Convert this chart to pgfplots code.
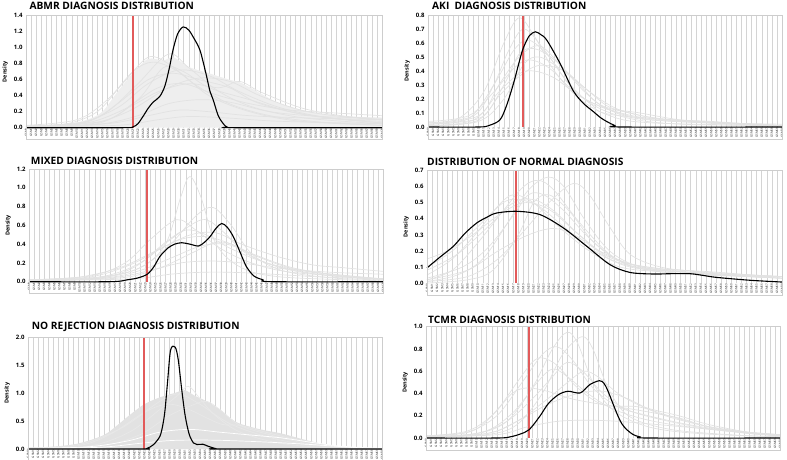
\documentclass[border=0pt]{standalone}
\usepackage{fontspec}
\setmainfont{Open Sans}
\usepackage{pgfplots}
\pgfplotsset{compat=1.18}
\definecolor{gcol}{RGB}{226,226,226}
\definecolor{gfill}{RGB}{238,238,238}
\definecolor{gridc}{RGB}{212,212,212}
\definecolor{redl}{RGB}{226,90,90}
\definecolor{framec}{RGB}{205,205,205}
\pgfplotsset{
  panel/.style={
    scale only axis, anchor=north west,
    xmin=0, xmax=70, ymin=0, clip=false,
    xtick={0,...,70}, xmajorgrids,
    major grid style={draw=gridc, line width=0.45pt},
    major tick length=0pt, axis line style={draw=none},
    xticklabel={GSM\ticknum},
    xticklabel style={font=\fontsize{3}{3}\selectfont, rotate=90, anchor=east, text=black!85, inner sep=0.6pt},
    yticklabel style={font=\fontsize{6}{7}\selectfont\bfseries,
      /pgf/number format/fixed, /pgf/number format/fixed zerofill,
      /pgf/number format/precision=1, /pgf/number format/assume math mode=true},
    ylabel={Density}, ylabel style={font=\fontsize{5.5}{6}\selectfont\bfseries, yshift=-1pt},
    title style={at={(0,1)}, anchor=base west, inner sep=0pt,
      font=\fontsize{10.2}{12}\selectfont\bfseries},
    extra description/.code={\draw[framec, line width=0.5pt] ([yshift=-12pt]0,0) rectangle (1,1);}},
  gc/.style={gcol, line width=0.7pt, smooth, tension=0.55},
  env/.style={draw=none, fill=gfill, smooth, tension=0.5},
  bk/.style={draw=black, line width=1.1pt, smooth, tension=0.5},
  redline/.style={color=redl, line width=1.5pt, sharp plot, mark=none},
}

\begin{document}
\begin{tikzpicture}
\path[use as bounding box] (0pt,0pt) rectangle (787pt,-459pt);

% ---------------- ABMR
\begin{axis}[panel, at={(26pt,-15.7pt)}, width=356pt, height=112pt, ymax=1.4,
  ytick={0,0.2,0.4,0.6,0.8,1.0,1.2,1.4},
  title={ABMR DIAGNOSIS DISTRIBUTION}, title style={xshift=3.3pt, yshift=0.7pt}]
\addplot[env] coordinates {(0,0.02)(8,0.05)(12,0.1)(15,0.2)(18,0.45)(21,0.68)(24,0.86)(27,0.84)(29,0.88)(32,0.76)(36,0.68)(40,0.6)(42,0.57)(45,0.47)(50,0.3)(56,0.2)(62,0.15)(70,0.12)} \closedcycle;
\addplot[gc] coordinates {(0,0.02)(8,0.05)(14,0.2)(19,0.55)(24,0.88)(28,0.8)(33,0.55)(40,0.3)(48,0.15)(58,0.07)(70,0.03)};
\addplot[gc] coordinates {(0,0.01)(10,0.04)(16,0.2)(22,0.55)(28,0.92)(32,0.75)(38,0.45)(45,0.25)(55,0.12)(70,0.05)};
\addplot[gc] coordinates {(0,0.01)(10,0.05)(18,0.25)(24,0.55)(30,0.72)(36,0.65)(42,0.45)(50,0.25)(60,0.12)(70,0.08)};
\addplot[gc] coordinates {(0,0.01)(12,0.04)(20,0.2)(28,0.5)(34,0.62)(40,0.58)(46,0.4)(54,0.22)(62,0.14)(70,0.1)};
\addplot[gc] coordinates {(0,0.02)(12,0.06)(20,0.25)(26,0.45)(32,0.55)(38,0.5)(42,0.58)(46,0.45)(54,0.25)(62,0.15)(70,0.1)};
\addplot[gc] coordinates {(0,0.01)(14,0.04)(22,0.15)(28,0.3)(34,0.35)(40,0.32)(48,0.2)(58,0.14)(70,0.12)};
\addplot[gc] coordinates {(0,0.01)(16,0.05)(24,0.15)(30,0.22)(36,0.2)(44,0.15)(56,0.12)(70,0.1)};
\addplot[gc] coordinates {(0,0.03)(10,0.1)(16,0.35)(21,0.7)(25,0.82)(30,0.7)(36,0.4)(44,0.2)(54,0.08)(70,0.03)};
\addplot[gc] coordinates {(0,0.01)(14,0.05)(22,0.35)(27,0.75)(31,0.7)(36,0.5)(44,0.35)(52,0.2)(60,0.12)(70,0.06)};
\addplot[gc] coordinates {(0,0.01)(18,0.03)(26,0.1)(32,0.14)(40,0.12)(50,0.08)(70,0.05)};
\addplot[gc] coordinates {(0,0.02)(12,0.08)(18,0.3)(24,0.6)(29,0.68)(34,0.6)(40,0.5)(46,0.3)(56,0.15)(70,0.06)};
\addplot[gc] coordinates {(0,0.01)(15,0.08)(21,0.3)(26,0.5)(31,0.55)(37,0.42)(44,0.3)(52,0.22)(62,0.18)(70,0.15)};
\addplot[redline] coordinates {(21,0)(21,1.4)};
\addplot[bk] coordinates {(0,0)(19,0)(21,0.01)(22,0.05)(23,0.14)(24,0.24)(25,0.32)(26.3,0.39)(27.3,0.52)(28.2,0.75)(28.9,0.97)(29.8,1.17)(30.9,1.26)(32,1.22)(33,1.12)(34.2,0.97)(35.3,0.7)(36.2,0.45)(36.8,0.35)(37.8,0.15)(38.8,0.05)(39.5,0.01)(41,0)(70,0)};
\end{axis}

% ---------------- AKI
\begin{axis}[panel, at={(428pt,-15pt)}, width=354pt, height=112pt, ymax=0.8,
  ytick={0,0.1,0.2,0.3,0.4,0.5,0.6,0.7,0.8},
  title={AKI\ \ DIAGNOSIS DISTRIBUTION}, title style={xshift=4pt, yshift=-0.3pt}]
\addplot[gc] coordinates {(0,0.03)(6,0.06)(11,0.25)(15,0.6)(18,0.78)(21,0.65)(25,0.4)(30,0.2)(36,0.08)(44,0.03)(70,0.01)};
\addplot[gc] coordinates {(0,0.02)(8,0.06)(13,0.3)(17,0.55)(20,0.62)(24,0.5)(28,0.3)(33,0.15)(40,0.06)(50,0.02)(70,0.01)};
\addplot[gc] coordinates {(0,0.04)(8,0.08)(13,0.25)(17,0.42)(20,0.48)(24,0.42)(29,0.25)(34,0.15)(42,0.07)(55,0.03)(70,0.01)};
\addplot[gc] coordinates {(0,0.01)(9,0.05)(14,0.25)(18,0.38)(21,0.4)(25,0.35)(30,0.22)(36,0.12)(45,0.05)(70,0.01)};
\addplot[gc] coordinates {(0,0.02)(10,0.08)(14,0.3)(18,0.5)(22,0.58)(26,0.45)(31,0.25)(36,0.12)(44,0.05)(70,0.01)};
\addplot[gc] coordinates {(0,0.01)(10,0.04)(15,0.2)(19,0.45)(22,0.5)(26,0.42)(31,0.28)(36,0.14)(42,0.1)(50,0.05)(58,0.03)(70,0.02)};
\addplot[gc] coordinates {(0,0.03)(9,0.08)(13,0.3)(16,0.55)(19,0.7)(23,0.55)(27,0.35)(32,0.17)(38,0.08)(70,0.01)};
\addplot[gc] coordinates {(0,0.02)(10,0.06)(14,0.22)(18,0.36)(22,0.44)(27,0.4)(32,0.25)(38,0.12)(46,0.06)(56,0.04)(64,0.02)(70,0.01)};
\addplot[gc] coordinates {(0,0.01)(10,0.05)(15,0.3)(18,0.52)(21,0.56)(25,0.48)(30,0.3)(34,0.16)(40,0.1)(48,0.05)(70,0.01)};
\addplot[redline] coordinates {(18.8,0)(18.8,0.8)};
\addplot[bk] coordinates {(0,0)(10,0)(12,0.01)(14.2,0.05)(15.5,0.15)(16.9,0.31)(18,0.46)(18.8,0.56)(20,0.65)(21.2,0.68)(22.3,0.66)(23.5,0.62)(26.1,0.455)(28.7,0.26)(30.7,0.17)(32.7,0.11)(34,0.07)(35.3,0.04)(37,0.01)(38.5,0)(70,0)};
\end{axis}

% ---------------- MIXED
\begin{axis}[panel, at={(29pt,-169pt)}, width=354pt, height=112.7pt, ymax=1.2,
  ytick={0,0.2,0.4,0.6,0.8,1.0,1.2},
  title={MIXED DIAGNOSIS DISTRIBUTION}, title style={xshift=1.7pt, yshift=-1pt}]
\addplot[gc] coordinates {(0,0.01)(14,0.05)(22,0.15)(27,0.4)(30,0.9)(31.8,1.12)(34,0.9)(37,0.4)(42,0.15)(50,0.05)(70,0.01)};
\addplot[gc] coordinates {(0,0.01)(14,0.04)(22,0.15)(28,0.4)(33,0.7)(36.4,0.79)(40,0.6)(44,0.3)(50,0.12)(60,0.04)(70,0.02)};
\addplot[gc] coordinates {(0,0.02)(12,0.06)(19,0.2)(24,0.45)(29.2,0.66)(33,0.55)(38,0.35)(44,0.2)(52,0.1)(70,0.03)};
\addplot[gc] coordinates {(0,0.01)(14,0.05)(22,0.2)(28,0.45)(34.2,0.66)(38,0.55)(43,0.3)(50,0.15)(60,0.06)(70,0.03)};
\addplot[gc] coordinates {(0,0.02)(12,0.05)(20,0.18)(26,0.35)(32,0.5)(37,0.52)(42,0.4)(49,0.27)(56,0.18)(62,0.15)(70,0.11)};
\addplot[gc] coordinates {(0,0.01)(15,0.04)(22,0.12)(28,0.25)(34,0.38)(39,0.4)(44,0.3)(52,0.15)(62,0.06)(70,0.03)};
\addplot[gc] coordinates {(0,0.02)(10,0.05)(18,0.15)(24,0.3)(30,0.45)(35,0.48)(40,0.4)(46,0.25)(54,0.12)(70,0.03)};
\addplot[gc] coordinates {(0,0.01)(16,0.04)(24,0.12)(30,0.2)(36,0.22)(42,0.2)(50,0.14)(60,0.1)(70,0.08)};
\addplot[gc] coordinates {(0,0.01)(18,0.04)(26,0.15)(32,0.3)(37,0.42)(41,0.38)(46,0.22)(54,0.1)(70,0.02)};
\addplot[gc] coordinates {(0,0.01)(20,0.03)(28,0.08)(34,0.1)(40,0.1)(48,0.08)(58,0.05)(70,0.03)};
\addplot[gc] coordinates {(0,0.01)(14,0.04)(21,0.16)(27,0.42)(31,0.55)(35,0.5)(40,0.35)(47,0.2)(56,0.1)(70,0.03)};
\addplot[redline] coordinates {(23.3,0)(23.3,1.2)};
\addplot[bk] coordinates {(0,0)(16,0)(19.4,0.02)(21.5,0.04)(23.4,0.08)(24.7,0.16)(25.9,0.27)(27.5,0.36)(28.8,0.4)(30.2,0.415)(31.8,0.4)(33.5,0.38)(34.7,0.42)(35.8,0.48)(37,0.57)(38.1,0.62)(39.2,0.58)(40.4,0.48)(41.7,0.32)(43,0.16)(44.5,0.06)(46.3,0.02)(48,0)(70,0)};
\end{axis}

% ---------------- NORMAL
\begin{axis}[panel, at={(427pt,-170.7pt)}, width=355pt, height=112.3pt, ymax=0.7,
  ytick={0,0.1,0.2,0.3,0.4,0.5,0.6,0.7},
  title={DISTRIBUTION OF NORMAL DIAGNOSIS}, title style={xshift=0pt, yshift=-0.3pt}]
\addplot[gc] coordinates {(0,0.02)(5,0.08)(10,0.25)(15,0.45)(19,0.6)(22,0.64)(25,0.58)(30,0.38)(36,0.18)(42,0.09)(50,0.07)(58,0.05)(70,0.03)};
\addplot[gc] coordinates {(0,0.01)(6,0.05)(11,0.15)(16,0.38)(20,0.58)(23.9,0.66)(27,0.6)(31,0.4)(36,0.2)(42,0.1)(50,0.08)(60,0.05)(70,0.04)};
\addplot[gc] coordinates {(0,0.01)(8,0.04)(14,0.15)(19,0.32)(24,0.5)(28.8,0.62)(32,0.55)(36,0.35)(40,0.18)(46,0.1)(54,0.07)(70,0.04)};
\addplot[gc] coordinates {(0,0.05)(5,0.15)(10,0.32)(14,0.48)(17,0.55)(21,0.5)(26,0.35)(32,0.2)(38,0.1)(46,0.07)(56,0.05)(70,0.03)};
\addplot[gc] coordinates {(0,0.1)(5,0.2)(10,0.35)(15,0.5)(18,0.52)(22,0.48)(27,0.35)(33,0.2)(40,0.1)(50,0.07)(60,0.05)(70,0.04)};
\addplot[gc] coordinates {(0,0.15)(4,0.2)(9,0.3)(14,0.42)(19,0.5)(24,0.46)(30,0.3)(36,0.16)(44,0.09)(54,0.06)(70,0.03)};
\addplot[gc] coordinates {(0,0.02)(8,0.08)(14,0.2)(20,0.3)(24.9,0.34)(29,0.3)(34,0.2)(40,0.12)(48,0.08)(58,0.05)(70,0.03)};
\addplot[gc] coordinates {(0,0.0)(8,0.02)(13,0.08)(18,0.3)(21,0.5)(24,0.55)(28,0.45)(33,0.25)(39,0.12)(46,0.08)(56,0.06)(70,0.04)};
\addplot[gc] coordinates {(0,0.08)(6,0.18)(12,0.35)(17,0.5)(21,0.52)(25,0.45)(30,0.3)(36,0.15)(44,0.08)(54,0.05)(70,0.04)};
\addplot[gc] coordinates {(0,0.03)(7,0.1)(12,0.22)(17,0.42)(20,0.55)(23,0.55)(27,0.45)(32,0.28)(38,0.14)(46,0.09)(56,0.07)(64,0.05)(70,0.04)};
\addplot[redline] coordinates {(17.5,0)(17.5,0.7)};
\addplot[bk] coordinates {(0,0.094)(2.5,0.16)(5.2,0.229)(7.5,0.31)(9.8,0.374)(11.8,0.41)(13.7,0.436)(17.7,0.447)(22.3,0.426)(26.9,0.343)(31.5,0.229)(36.1,0.114)(40,0.066)(44.6,0.056)(48,0.058)(51.9,0.058)(54.5,0.047)(57.1,0.035)(63.7,0.017)(70,0.006)};
\end{axis}

% ---------------- NO REJECTION
\begin{axis}[panel, at={(28pt,-337pt)}, width=354pt, height=112pt, ymax=2.0,
  ytick={0,0.5,1.0,1.5,2.0},
  title={NO REJECTION DIAGNOSIS DISTRIBUTION}, title style={xshift=3.7pt, yshift=2pt}]
\addplot[env, fill=gcol] coordinates {(0,0.02)(5,0.04)(10,0.1)(15,0.25)(18,0.45)(20,0.6)(23,0.8)(26,0.92)(29,1.0)(31,1.05)(33,0.95)(35.4,0.85)(38,0.7)(40,0.55)(42,0.45)(46,0.35)(50,0.28)(55,0.16)(60,0.06)(65,0.02)(70,0.005)} \closedcycle;
\addplot[gc, gray!18] coordinates {(0,0.01)(10,0.06)(16,0.25)(22,0.6)(27,0.9)(30,0.98)(34,0.8)(40,0.45)(48,0.2)(56,0.07)(64,0.02)(70,0.0)};
\addplot[gc, gray!18] coordinates {(0,0.01)(12,0.05)(20,0.3)(26,0.7)(29.5,0.95)(31.7,1.12)(34,0.9)(37,0.6)(42,0.3)(50,0.1)(60,0.02)(70,0)};
\addplot[gc, gray!18] coordinates {(0,0.01)(14,0.05)(22,0.25)(28,0.6)(33,0.8)(35.4,0.85)(38,0.7)(42,0.42)(48,0.25)(55,0.1)(62,0.03)(70,0)};
\addplot[gc, gray!18] coordinates {(0,0.02)(10,0.08)(18,0.35)(24,0.7)(28,0.8)(32,0.7)(38,0.45)(42,0.42)(47,0.3)(54,0.15)(62,0.04)(70,0.01)};
\addplot[gc, white] coordinates {(0,0.01)(12,0.04)(20,0.15)(26,0.3)(32,0.35)(38,0.3)(44,0.25)(50,0.2)(56,0.12)(62,0.05)(70,0.01)};
\addplot[gc, white] coordinates {(0,0.01)(14,0.03)(22,0.1)(28,0.15)(34,0.16)(40,0.15)(48,0.12)(56,0.08)(64,0.03)(70,0.01)};
\addplot[redline] coordinates {(22.9,0)(22.9,2.0)};
\addplot[bk] coordinates {(0,0)(22.5,0)(23.5,0.01)(24.8,0.077)(26.1,0.23)(26.7,0.45)(27.1,0.7)(27.6,1.2)(28.2,1.77)(29.1,1.82)(29.7,1.6)(30.4,1.06)(31,0.64)(31.5,0.4)(32,0.23)(32.7,0.11)(33.4,0.08)(34.6,0.085)(35.6,0.05)(37,0.01)(38,0)(70,0)};
\end{axis}

% ---------------- TCMR
\begin{axis}[panel, at={(426pt,-326.7pt)}, width=354pt, height=111.3pt, ymax=1.0,
  ytick={0,0.2,0.4,0.6,0.8,1.0},
  title={TCMR DIAGNOSIS DISTRIBUTION}, title style={xshift=2pt, yshift=-2.3pt}]
\addplot[gc] coordinates {(0,0.01)(10,0.04)(16,0.15)(21,0.45)(25,0.8)(27.9,0.95)(30,0.85)(33,0.5)(37,0.25)(44,0.1)(54,0.04)(70,0.01)};
\addplot[gc] coordinates {(0,0.01)(12,0.03)(18,0.12)(23,0.4)(27,0.75)(30.8,0.91)(33,0.8)(36,0.45)(40,0.2)(48,0.08)(60,0.03)(70,0.01)};
\addplot[gc] coordinates {(0,0.02)(8,0.05)(14,0.2)(19,0.5)(23,0.75)(25.9,0.82)(29,0.7)(33,0.45)(38,0.28)(44,0.2)(52,0.12)(62,0.05)(70,0.02)};
\addplot[gc] coordinates {(0,0.02)(9,0.06)(14,0.25)(18,0.5)(21,0.68)(23,0.72)(26,0.65)(30,0.45)(35,0.3)(42,0.28)(48,0.2)(56,0.1)(64,0.04)(70,0.02)};
\addplot[gc] coordinates {(0,0.01)(10,0.04)(16,0.15)(21,0.35)(25,0.55)(27.9,0.68)(31,0.6)(35,0.4)(40,0.25)(48,0.15)(58,0.07)(70,0.03)};
\addplot[gc] coordinates {(0,0.02)(8,0.06)(13,0.2)(17,0.4)(20,0.45)(24,0.42)(29,0.35)(35,0.3)(42,0.25)(50,0.18)(56,0.1)(64,0.05)(70,0.03)};
\addplot[gc] coordinates {(0,0.01)(12,0.04)(18,0.15)(24,0.35)(28,0.5)(31.2,0.6)(34,0.55)(38,0.4)(43,0.28)(50,0.2)(56,0.12)(64,0.05)(70,0.02)};
\addplot[gc] coordinates {(0,0.01)(14,0.03)(20,0.1)(26,0.15)(32,0.16)(38,0.15)(46,0.12)(56,0.08)(70,0.03)};
\addplot[gc] coordinates {(0,0.01)(12,0.04)(18,0.15)(24,0.3)(30,0.4)(35,0.42)(40,0.35)(46,0.22)(54,0.12)(62,0.06)(70,0.02)};
\addplot[gc] coordinates {(0,0.01)(11,0.05)(17,0.22)(22,0.5)(25,0.62)(28,0.55)(32,0.4)(37,0.26)(44,0.16)(52,0.1)(62,0.05)(70,0.02)};
\addplot[redline] coordinates {(20.4,0)(20.4,1.0)};
\addplot[bk] coordinates {(0,0)(14,0)(16.6,0.01)(18.6,0.035)(20.4,0.075)(22.5,0.195)(24.2,0.31)(26.2,0.39)(28.1,0.42)(30.5,0.405)(32.4,0.48)(34.3,0.515)(35.2,0.49)(36,0.42)(37.7,0.225)(38.7,0.13)(39.7,0.075)(41,0.03)(42.3,0.01)(44,0)(70,0)};
\end{axis}
\end{tikzpicture}
\end{document}
